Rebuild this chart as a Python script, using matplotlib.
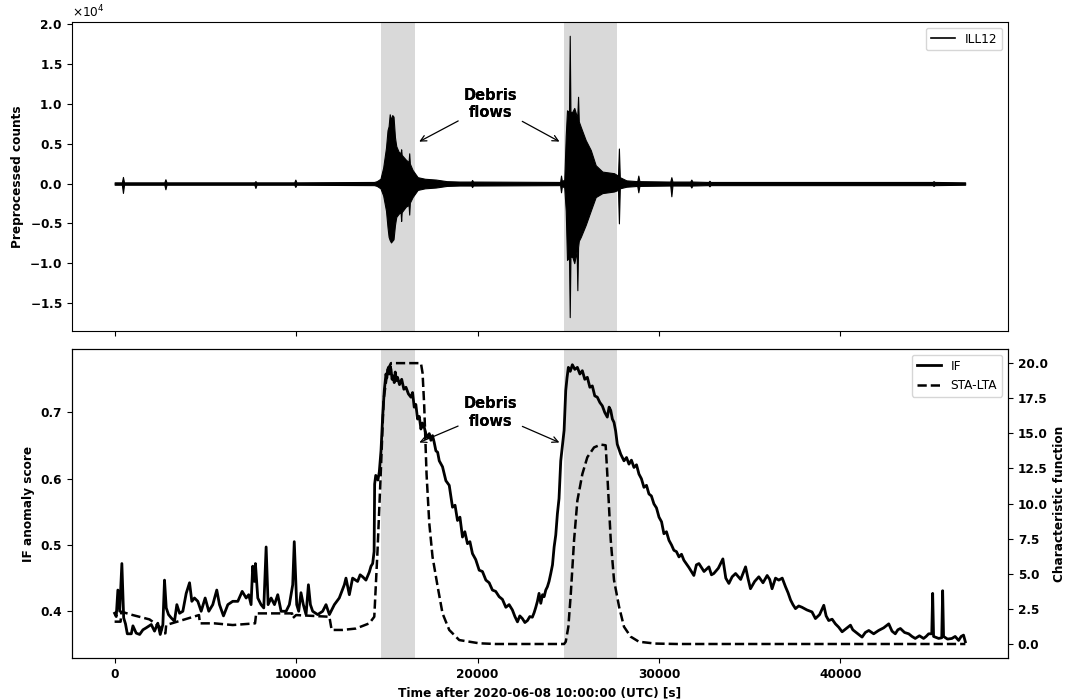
import numpy as np
import matplotlib
matplotlib.use('Agg')
import matplotlib.pyplot as plt
from matplotlib.lines import Line2D

# debris-flow windows [s]
span_start = [14700, 24770]
span_end = [16550, 27670]

# waveform envelope of ILL12 [counts]
wave_t = [0, 400, 460, 520, 2740, 2800, 2860, 7700, 7760, 7820, 9900, 9960, 10020,
          14300, 14450, 14650, 14800, 14955, 15040, 15100, 15160, 15230, 15300, 15370,
          15450, 15520, 15650, 15760, 15790, 15820, 16050, 16200, 16235, 16270, 16420,
          16700, 17100, 17700, 18300, 19000, 19650, 19700, 19750,
          24550, 24600, 24650, 24780, 24860, 24930, 25040, 25080, 25120, 25220, 25330,
          25460, 25500, 25540, 25580, 25690, 25960, 26240, 26510, 26880, 27520, 27740,
          27790, 27840, 28200, 28800, 28860, 28920, 30620, 30680, 30740, 31720, 31780,
          31840, 32720, 32780, 32840, 45070, 45130, 45190, 46870]
wave_hi = [150, 150, 830, 150, 150, 540, 150, 150, 300, 150, 150, 500, 150,
           200, 300, 600, 2000, 4500, 6700, 7200, 8700, 8000, 8600, 8400,
           5800, 4700, 4000, 3800, 4300, 3600, 3000, 2700, 3800, 2500, 1700,
           800, 600, 500, 300, 250, 250, 450, 250,
           200, 1000, 300, 500, 6000, 9200, 9000, 18560, 9000, 9000, 9500,
           8500, 8700, 10900, 7800, 7100, 5450, 4200, 2300, 1500, 1300, 1000,
           4400, 800, 400, 300, 1000, 300, 250, 800, 250, 250, 500,
           250, 200, 350, 200, 200, 300, 200, 150]
wave_lo = [-150, -150, -1180, -150, -150, -720, -150, -150, -550, -150, -150, -430, -150,
           -200, -300, -600, -1500, -3400, -5500, -6700, -7100, -7400, -7200, -7000,
           -5200, -4200, -3800, -3600, -4700, -3600, -2900, -2700, -3900, -2400, -1700,
           -800, -600, -500, -300, -250, -250, -450, -250,
           -200, -1100, -300, -500, -3400, -9600, -9300, -16780, -9200, -9200, -10000,
           -8500, -13400, -8000, -7200, -6700, -5200, -3400, -1700, -1200, -1000, -800,
           -5000, -600, -400, -300, -1100, -300, -250, -1600, -250, -250, -500,
           -250, -200, -350, -200, -200, -300, -200, -150]

# isolation forest anomaly score
if_t = [0, 90, 180, 280, 400, 500, 600, 700, 920, 1010, 1190, 1380, 1560, 1740, 2020,
        2200, 2380, 2515, 2660, 2750, 2845, 2970, 3120, 3300, 3430, 3580, 3760, 3945,
        4130, 4255, 4400, 4585, 4770, 4990, 5190, 5410, 5630, 5780, 6000, 6240, 6510,
        6790, 7030, 7250, 7390, 7520, 7610, 7705, 7760, 7890, 8070, 8220, 8350, 8460,
        8625, 8810, 8990, 9175, 9450, 9630, 9815, 9900, 10035, 10145, 10270, 10400,
        10550, 10680, 10790, 10915, 11190, 11465, 11650, 11835, 12110, 12380, 12660,
        12750, 12935, 13115, 13390,
        13530, 13670, 13850, 14035, 14130, 14220, 14300, 14330, 14390, 14440,
        14510, 14585, 14680, 14770, 14860, 14955, 15000, 15040, 15090, 15135,
        15180, 15230, 15290, 15355, 15410, 15465, 15530, 15590, 15700, 15820,
        15940, 16055, 16190, 16330, 16420, 16510, 16600, 16695, 16790, 16880,
        16970, 17060, 17150, 17245, 17340, 17430, 17520, 17610, 17705, 17800,
        17890, 18070, 18255, 18440, 18620, 18760, 18895, 19030, 19170, 19300,
        19445, 19580, 19720, 19900, 20090, 20270, 20460, 20640, 20820, 21000,
        21190, 21370, 21560, 21740, 21920, 22060, 22200, 22330, 22470, 22610,
        22750, 22880, 23020, 23120, 23210, 23300, 23390, 23485, 23580, 23670,
        23760, 23850, 23940, 24035, 24130, 24220, 24310, 24400, 24490, 24585,
        24675, 24770, 24860, 24930, 25005, 25110, 25225, 25360, 25500, 25640,
        25775, 25910, 26050, 26190, 26325, 26460, 26600, 26740, 26875, 27010,
        27150, 27250, 27340, 27430, 27520, 27610, 27700, 27790, 27890, 27980,
        28070, 28210, 28345, 28480, 28620, 28760, 28895, 29030, 29170, 29310,
        29445, 29580, 29720, 29860, 30000, 30140, 30270, 30410, 30550, 30690,
        30820, 30960, 31100, 31240, 31370, 31650, 31920, 32060, 32200, 32480,
        32750, 32890, 33020, 33270, 33520, 33680, 33850, 34030, 34220, 34500,
        34770, 34900, 35040, 35270, 35500, 35730, 35960, 36100, 36230, 36420,
        36600, 36790, 36970, 37110, 37250, 37380, 37520, 37700, 37880, 38150,
        38430, 38620, 38850, 39080, 39210, 39350, 39540, 39720, 39900, 40090,
        40320, 40550, 40680, 40820, 41000, 41190, 41370, 41560, 41830, 42100,
        42380, 42660, 42840, 43020, 43160, 43300, 43530, 43760, 43940, 44120,
        44350, 44580, 44720, 44860, 45030, 45080, 45130, 45410, 45580, 45630,
        45680, 45900, 46140, 46320, 46510, 46650, 46780, 46880]
if_score = [0.397, 0.392, 0.432, 0.400, 0.472, 0.390, 0.381, 0.366, 0.366, 0.378, 0.367,
            0.365, 0.372, 0.375, 0.380, 0.370, 0.382, 0.365, 0.380, 0.447, 0.405, 0.395,
            0.390, 0.385, 0.410, 0.397, 0.400, 0.427, 0.443, 0.415, 0.420, 0.415, 0.400,
            0.420, 0.400, 0.410, 0.432, 0.410, 0.393, 0.410, 0.415, 0.415, 0.430, 0.420,
            0.425, 0.410, 0.468, 0.445, 0.472, 0.420, 0.410, 0.405, 0.497, 0.410, 0.420,
            0.410, 0.425, 0.400, 0.400, 0.410, 0.440, 0.505, 0.410, 0.400, 0.428, 0.410,
            0.395, 0.440, 0.410, 0.400, 0.395, 0.400, 0.410, 0.395, 0.410, 0.420, 0.440,
            0.450, 0.425, 0.450, 0.445,
            0.455, 0.452, 0.447, 0.459, 0.468, 0.472, 0.490, 0.592, 0.605, 0.602,
            0.598, 0.610, 0.642, 0.693, 0.733, 0.758, 0.752, 0.763, 0.768, 0.758,
            0.770, 0.765, 0.750, 0.755, 0.745, 0.761, 0.748, 0.753, 0.742, 0.750,
            0.735, 0.738, 0.728, 0.723, 0.730, 0.708, 0.712, 0.690, 0.694, 0.675,
            0.684, 0.678, 0.668, 0.662, 0.668, 0.658, 0.665, 0.655, 0.642, 0.640,
            0.627, 0.618, 0.597, 0.590, 0.557, 0.560, 0.537, 0.542, 0.512, 0.520,
            0.502, 0.505, 0.487, 0.478, 0.462, 0.460, 0.447, 0.443, 0.432, 0.430,
            0.422, 0.418, 0.406, 0.410, 0.402, 0.392, 0.384, 0.393, 0.389, 0.383,
            0.386, 0.392, 0.391, 0.398, 0.406, 0.415, 0.427, 0.412, 0.425, 0.422,
            0.432, 0.437, 0.445, 0.457, 0.470, 0.497, 0.515, 0.547, 0.570, 0.627,
            0.650, 0.673, 0.733, 0.752, 0.768, 0.762, 0.772, 0.765, 0.768, 0.758,
            0.763, 0.750, 0.753, 0.738, 0.740, 0.725, 0.723, 0.715, 0.710, 0.700,
            0.693, 0.708, 0.703, 0.690, 0.685, 0.672, 0.652, 0.645, 0.637, 0.632,
            0.627, 0.632, 0.622, 0.628, 0.617, 0.621, 0.607, 0.600, 0.587, 0.590,
            0.577, 0.574, 0.562, 0.556, 0.542, 0.535, 0.517, 0.520, 0.507, 0.500,
            0.492, 0.490, 0.482, 0.486, 0.477, 0.466, 0.454, 0.470, 0.472, 0.460,
            0.467, 0.455, 0.457, 0.465, 0.479, 0.450, 0.442, 0.452, 0.457, 0.448,
            0.467, 0.450, 0.434, 0.445, 0.452, 0.443, 0.454, 0.448, 0.434, 0.450,
            0.447, 0.450, 0.437, 0.428, 0.417, 0.410, 0.404, 0.408, 0.406, 0.402,
            0.399, 0.389, 0.395, 0.409, 0.393, 0.386, 0.388, 0.381, 0.376, 0.369,
            0.374, 0.379, 0.372, 0.369, 0.365, 0.361, 0.368, 0.371, 0.366, 0.371,
            0.375, 0.381, 0.370, 0.366, 0.372, 0.374, 0.368, 0.366, 0.362, 0.359,
            0.363, 0.359, 0.362, 0.366, 0.366, 0.427, 0.362, 0.359, 0.360, 0.431,
            0.362, 0.358, 0.359, 0.362, 0.356, 0.362, 0.364, 0.354]

# STA-LTA characteristic function
sta_t = [0, 330, 370, 1000, 1925, 2475, 2660, 2800, 2840, 4650, 4700, 5500, 6510, 7740,
         7800, 9780, 9810, 10000, 11835, 11960, 12550, 13300, 14035, 14310, 14490, 14680,
         14825, 15040, 15230, 16880, 16970, 17060, 17190, 17340, 17520, 17800, 18070,
         18440, 18990, 20090, 21000, 24770, 24860, 25005, 25140, 25320, 25500, 25775,
         26050, 26420, 26790, 27060, 27150, 27340, 27520, 27800, 28070, 28440, 28895,
         29800, 31000, 46880]
sta_val = [1.59, 1.59, 2.30, 2.06, 1.75, 1.23, 0.76, 0.76, 1.35, 2.06, 1.47, 1.47, 1.35,
           1.47, 2.18, 2.18, 1.83, 2.06, 1.94, 1.00, 1.00, 1.10, 1.47, 1.94, 6.7, 12.6,
           17.4, 19.5, 20.0, 20.0, 19.3, 17.0, 12.1, 8.6, 6.2, 4.1, 2.18, 1.0, 0.28, 0.05,
           0.0, 0.0, 0.16, 1.23, 3.6, 7.4, 10.2, 12.1, 13.3, 14.0, 14.2, 14.15, 12.1, 7.4,
           4.55, 2.65, 1.23, 0.52, 0.16, 0.03, 0.0, 0.0]

plt.rcParams['font.size'] = 8.7

fig, (ax1, ax2) = plt.subplots(2, 1, sharex=True, figsize=(10.69, 6.99), dpi=100)
fig.subplots_adjust(left=0.0674, right=0.943, top=0.969, bottom=0.0582, hspace=0.057)

for a in (ax1, ax2):
    for s, e in zip(span_start, span_end):
        a.axvspan(s, e, color='0.85', lw=0)

# top: waveform
ax1.fill_between(wave_t, wave_lo, wave_hi, color='k', lw=0.8)
ax1.legend(handles=[Line2D([], [], color='k', lw=1.2, label='ILL12')], loc='upper right')
ax1.set_ylabel('Preprocessed counts', fontweight='bold')
ax1.ticklabel_format(axis='y', style='sci', scilimits=(0, 0), useMathText=True)
ax1.set_ylim(-18540, 20330)
ax1.set_xlim(-2345, 49235)

arrow = dict(arrowstyle='->', color='k', lw=0.9)
for tip in [16650, 24650]:
    ax1.annotate('Debris\nflows', xy=(tip, 5100), xytext=(20700, 10000), ha='center',
                 va='center', fontsize=10.5, fontweight='bold', arrowprops=arrow)

# bottom: IF score and STA-LTA
l1, = ax2.plot(if_t, if_score, 'k-', lw=2, label='IF')
ax2.set_ylim(0.329, 0.796)
ax2.set_ylabel('IF anomaly score', fontweight='bold')
ax2.set_xlabel('Time after 2020-06-08 10:00:00 (UTC) [s]', fontweight='bold')

ax3 = ax2.twinx()
l2, = ax3.plot(sta_t, sta_val, 'k--', lw=1.8, label='STA-LTA')
ax3.set_ylim(-1.02, 21.02)
ax3.set_yticks(np.arange(0, 20.1, 2.5))
ax3.set_ylabel('Characteristic function', fontweight='bold')
ax3.legend(handles=[l1, l2], loc='upper right')

for tip in [16650, 24650]:
    ax2.annotate('Debris\nflows', xy=(tip, 0.653), xytext=(20700, 0.70), ha='center',
                 va='center', fontsize=10.5, fontweight='bold', arrowprops=arrow, zorder=5)

for a in (ax1, ax2, ax3):
    plt.setp(a.get_xticklabels() + a.get_yticklabels(), fontweight='bold')

fig.savefig('out.png', dpi=100)
